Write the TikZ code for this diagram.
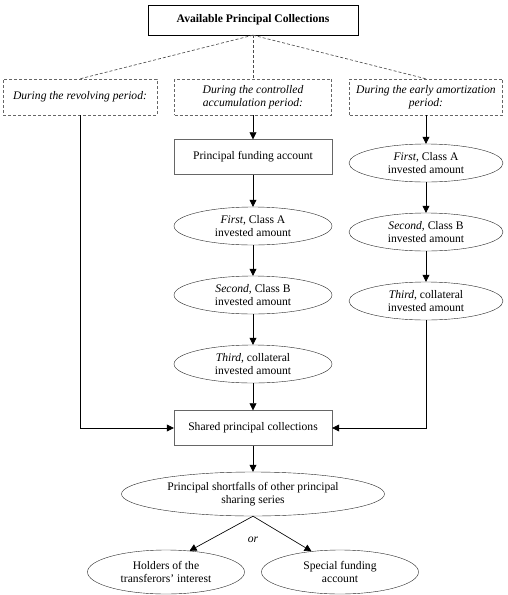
\documentclass[tikz,border=0pt]{standalone}
\usepackage{fontspec}
\setmainfont{Liberation Serif}
\usetikzlibrary{positioning}
\usetikzlibrary{shapes.geometric}
\usetikzlibrary{arrows.meta}

\begin{document}
\begin{tikzpicture}[
        x = 1pt, y = -1pt,
        font = \fontsize{11.6}{13.3}\selectfont,
        box/.style = {
                draw = black!60,
                rectangle,
                minimum width = #1,
                minimum height = 35pt,
                align = center,
                inner sep = 0pt
            },
            box/.default = 158pt,
        period/.style = {
                box = #1,
                draw = black!60,
                dash pattern = on 3pt off 2pt,
                minimum height = 36pt,
                font = \fontsize{11.6}{13.3}\selectfont\itshape
            },
            period/.default = 156pt,
        amount/.style = {
                draw = black!85,
                ellipse,
                minimum width = #1,
                minimum height = 38pt,
                align = center,
                inner sep = 0pt
            },
            amount/.default = 158pt,
        flow/.style = {-{Triangle[length = 7pt, width = 7pt]}, line width = 0.65pt},
        split/.style = {draw = black!70, dash pattern = on 3pt off 2pt, line width = 0.65pt},
        node distance = {69pt}
    ]
        \useasboundingbox (0,0) rectangle (507,595);

        \node[box = 210pt, draw = black, minimum height = 30pt, font = \fontsize{11.6}{13.3}\selectfont\bfseries] (avail) at (253,20) {Available Principal Collections};

        \node[period = 154pt] (revolving) at (80,97) {During the revolving period:};
        \node[period = 157pt] (controlled) at (253,97) {During the controlled\\accumulation period:};
        \node[period = 153pt] (early) at (426,97) {During the early amortization\\period:};

        \node[box] (funding) at (253,157) {Principal funding account};
        \node[amount, below of = funding] (midA) {\textit{First}, Class A\\invested amount};
        \node[amount, below of = midA] (midB) {\textit{Second}, Class B\\invested amount};
        \node[amount, below of = midB] (midC) {\textit{Third}, collateral\\invested amount};

        \node[amount = 154pt] (rightA) at (426,163) {\textit{First}, Class A\\invested amount};
        \node[amount = 154pt, below of = rightA] (rightB) {\textit{Second}, Class B\\invested amount};
        \node[amount = 154pt, below of = rightB] (rightC) {\textit{Third}, collateral\\invested amount};

        \node[box] (shared) at (253,428) {Shared principal collections};
        \node[amount = 263pt, minimum height = 44pt] (shortfall) at (253,494) {Principal shortfalls of other principal\\sharing series};
        \node[amount = 157pt, minimum height = 44pt] (holders) at (166,572) {Holders of the\\transferors' interest};
        \node[amount = 157pt, minimum height = 44pt] (special) at (340,572) {Special funding\\account};
        \node[font = \fontsize{11.6}{13.3}\selectfont\itshape] (or) at (253,540) {or};

        \draw[split] (avail.south) -- (revolving.north);
        \draw[split] (avail.south) -- (controlled.north);
        \draw[split] (avail.south) -- (early.north);

        \draw[flow] (controlled) -- (funding);
        \draw[flow] (funding) -- (midA);
        \draw[flow] (midA) -- (midB);
        \draw[flow] (midB) -- (midC);
        \draw[flow] (midC) -- (shared);

        \draw[flow] (early) -- (rightA);
        \draw[flow] (rightA) -- (rightB);
        \draw[flow] (rightB) -- (rightC);
        \draw[flow] (rightC.south) |- (shared.east);

        \draw[flow] (revolving.south) |- (shared.west);

        \draw[flow] (shared) -- (shortfall);
        \draw[flow] (shortfall.south) -- (holders.42);
        \draw[flow] (shortfall.south) -- (special.144);

    \end{tikzpicture}
\end{document}
